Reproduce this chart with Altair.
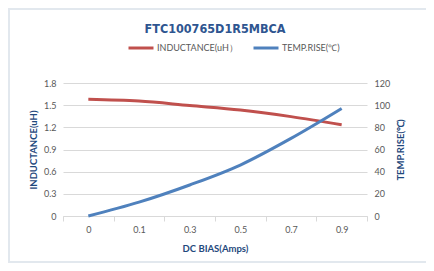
import altair as alt
import pandas as pd

categories = ["0", "0.1", "0.3", "0.5", "0.7", "0.9"]
inductance = [1.58, 1.555, 1.495, 1.435, 1.345, 1.235]
temp_rise = [0, 12.5, 28, 46, 70, 97]

series_names = ["INDUCTANCE(uH）", "TEMP.RISE(℃)"]
series_colors = ["#C0504D", "#4F81BD"]

df = pd.DataFrame({"x": categories, "ind": inductance, "temp": temp_rise})

W, H = 304, 133
PL, PT, PR, PB = 55, 75, 59, 47

font = "Lato"
label_color = "#595959"
title_color = "#1F497D"
grid_color = "#D9D9D9"

color_scale = alt.Scale(domain=series_names, range=series_colors)

xenc = alt.X(
    "x:N",
    sort=categories,
    scale=alt.Scale(type="band", paddingInner=0, paddingOuter=0),
    axis=alt.Axis(
        title="DC BIAS(Amps)",
        labelAngle=0,
        tickBand="extent",
        grid=False,
        domainColor=grid_color,
        tickColor=grid_color,
        tickSize=5,
        labelPadding=4,
        labelFont=font,
        labelFontSize=9,
        labelColor=label_color,
        titleFont=font,
        titleFontSize=9.5,
        titleFontWeight="bold",
        titleColor=title_color,
        titlePadding=9,
    ),
)

frame = alt.Chart(df).mark_rect(
    fill=None, stroke="#E2E7EE", strokeWidth=1.5
).encode(
    x=alt.value(-PL + 1),
    x2=alt.value(W + PR + 10),
    y=alt.value(-PT + 1),
    y2=alt.value(H + PB - 1),
)

line_ind = alt.Chart(df).mark_line(
    strokeWidth=3, interpolate="monotone"
).encode(
    x=xenc,
    y=alt.Y(
        "ind:Q",
        scale=alt.Scale(domain=[0, 1.8]),
        axis=alt.Axis(
            title="INDUCTANCE(uH)",
            values=[0, 0.3, 0.6, 0.9, 1.2, 1.5, 1.8],
            format=".1~f",
            grid=True,
            gridColor=grid_color,
            domain=False,
            ticks=False,
            labelPadding=7,
            labelFont=font,
            labelFontSize=9,
            labelColor=label_color,
            titleFont=font,
            titleFontSize=9.5,
            titleFontWeight="bold",
            titleColor=title_color,
            titleX=-25,
            titleY=H / 2,
        ),
    ),
    color=alt.Color(
        "s:N",
        scale=color_scale,
        legend=alt.Legend(
            title=None,
            orient="none",
            legendX=64,
            legendY=-49,
            direction="horizontal",
            symbolType="stroke",
            symbolSize=625,
            symbolStrokeWidth=3,
            labelFont=font,
            labelFontSize=9,
            labelColor=label_color,
            labelOffset=2,
            columnPadding=9,
        ),
    ),
).transform_calculate(s="'" + series_names[0] + "'")

line_temp = alt.Chart(df).mark_line(
    strokeWidth=3, interpolate="monotone"
).encode(
    x=xenc,
    y=alt.Y(
        "temp:Q",
        scale=alt.Scale(domain=[0, 120]),
        axis=alt.Axis(
            orient="right",
            title="TEMP.RISE(℃)",
            titleAngle=270,
            values=[0, 20, 40, 60, 80, 100, 120],
            grid=False,
            domain=False,
            ticks=False,
            labelPadding=7,
            labelFont=font,
            labelFontSize=9,
            labelColor=label_color,
            titleFont=font,
            titleFontSize=9.5,
            titleFontWeight="bold",
            titleColor=title_color,
            titleX=38,
            titleY=H / 2,
        ),
    ),
    color=alt.Color("s:N", scale=color_scale),
).transform_calculate(s="'" + series_names[1] + "'")

chart = alt.layer(frame, line_ind, line_temp).resolve_scale(
    y="independent"
).properties(
    width=W,
    height=H,
    padding={"left": PL, "top": PT, "right": PR, "bottom": PB},
    autosize=alt.AutoSizeParams(type="none"),
    title=alt.TitleParams(
        "FTC100765D1R5MBCA",
        font="DejaVu Sans Condensed",
        fontSize=12.5,
        fontWeight="bold",
        color="#2E5590",
        anchor="middle",
        offset=-27,
    ),
).configure_view(stroke=None)

chart.save("out.html", embed_options={"renderer": "svg", "actions": False})
